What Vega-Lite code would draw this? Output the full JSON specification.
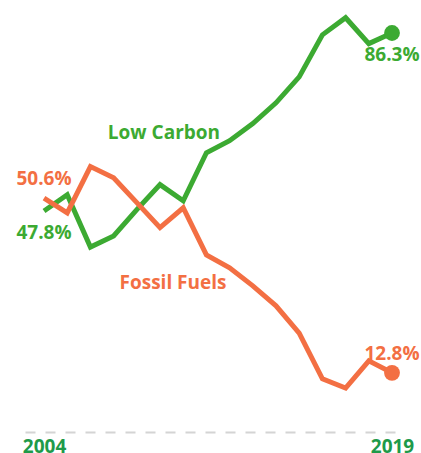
{
  "$schema": "https://vega.github.io/schema/vega-lite/v6.json",
  "width": 380,
  "height": 430,
  "autosize": {"type": "none"},
  "padding": {"left": 25, "top": 2, "right": 16, "bottom": 21},
  "background": "white",
  "config": {"view": {"stroke": null}, "font": "Open Sans"},
  "datasets": {
    "lines": [
      {"year": 2004, "series": "Low Carbon", "value": 47.8},
      {"year": 2005, "series": "Low Carbon", "value": 51.3},
      {"year": 2006, "series": "Low Carbon", "value": 40.0},
      {"year": 2007, "series": "Low Carbon", "value": 42.4},
      {"year": 2008, "series": "Low Carbon", "value": 48.1},
      {"year": 2009, "series": "Low Carbon", "value": 53.5},
      {"year": 2010, "series": "Low Carbon", "value": 50.0},
      {"year": 2011, "series": "Low Carbon", "value": 60.4},
      {"year": 2012, "series": "Low Carbon", "value": 63.0},
      {"year": 2013, "series": "Low Carbon", "value": 66.7},
      {"year": 2014, "series": "Low Carbon", "value": 71.2},
      {"year": 2015, "series": "Low Carbon", "value": 76.8},
      {"year": 2016, "series": "Low Carbon", "value": 85.9},
      {"year": 2017, "series": "Low Carbon", "value": 89.6},
      {"year": 2018, "series": "Low Carbon", "value": 84.0},
      {"year": 2019, "series": "Low Carbon", "value": 86.3},
      {"year": 2004, "series": "Fossil Fuels", "value": 50.6},
      {"year": 2005, "series": "Fossil Fuels", "value": 47.4},
      {"year": 2006, "series": "Fossil Fuels", "value": 57.4},
      {"year": 2007, "series": "Fossil Fuels", "value": 55.0},
      {"year": 2008, "series": "Fossil Fuels", "value": 49.6},
      {"year": 2009, "series": "Fossil Fuels", "value": 44.2},
      {"year": 2010, "series": "Fossil Fuels", "value": 48.5},
      {"year": 2011, "series": "Fossil Fuels", "value": 38.3},
      {"year": 2012, "series": "Fossil Fuels", "value": 35.5},
      {"year": 2013, "series": "Fossil Fuels", "value": 31.6},
      {"year": 2014, "series": "Fossil Fuels", "value": 27.3},
      {"year": 2015, "series": "Fossil Fuels", "value": 21.4},
      {"year": 2016, "series": "Fossil Fuels", "value": 11.5},
      {"year": 2017, "series": "Fossil Fuels", "value": 9.5},
      {"year": 2018, "series": "Fossil Fuels", "value": 15.4},
      {"year": 2019, "series": "Fossil Fuels", "value": 12.8}
    ],
    "labelsAbove": [
      {"year": 2004, "series": "Fossil Fuels", "value": 50.6, "label": "50.6%"},
      {"year": 2019, "series": "Fossil Fuels", "value": 12.8, "label": "12.8%"}
    ],
    "labelsBelow": [
      {"year": 2004, "series": "Low Carbon", "value": 47.8, "label": "47.8%"},
      {"year": 2019, "series": "Low Carbon", "value": 86.3, "label": "86.3%"}
    ],
    "seriesNames": [
      {"year": 2009.17, "series": "Low Carbon", "value": 64.7, "label": "Low Carbon"},
      {"year": 2009.56, "series": "Fossil Fuels", "value": 32.2, "label": "Fossil Fuels"}
    ]
  },
  "encoding": {
    "x": {
      "field": "year",
      "type": "quantitative",
      "scale": {"domain": [2003.18, 2019.56], "nice": false, "zero": false},
      "axis": {
        "title": null,
        "values": [2004, 2019],
        "format": "d",
        "grid": false,
        "ticks": false,
        "labelFlush": false,
        "labelColor": "#1e9a4a",
        "labelFont": "Open Sans",
        "labelFontSize": 19,
        "labelFontWeight": "bold",
        "labelPadding": 5,
        "domainColor": "#d4d4d4",
        "domainWidth": 2,
        "domainDash": [10, 10]
      }
    },
    "y": {
      "field": "value",
      "type": "quantitative",
      "scale": {"domain": [0, 93], "nice": false},
      "axis": null
    },
    "color": {
      "field": "series",
      "type": "nominal",
      "scale": {"domain": ["Low Carbon", "Fossil Fuels"], "range": ["#3caa32", "#f36f43"]},
      "legend": null
    }
  },
  "layer": [
    {
      "data": {"name": "lines"},
      "mark": {"type": "line", "strokeWidth": 5, "strokeJoin": "miter", "strokeCap": "butt"}
    },
    {
      "data": {"name": "lines"},
      "transform": [{"filter": "datum.year == 2019"}],
      "mark": {"type": "point", "filled": true, "opacity": 1, "size": 250}
    },
    {
      "data": {"name": "labelsAbove"},
      "mark": {"type": "text", "align": "center", "baseline": "middle", "dy": -19, "fontSize": 19, "fontWeight": "bold", "font": "Open Sans"},
      "encoding": {"text": {"field": "label"}}
    },
    {
      "data": {"name": "labelsBelow"},
      "mark": {"type": "text", "align": "center", "baseline": "middle", "dy": 22, "fontSize": 19, "fontWeight": "bold", "font": "Open Sans"},
      "encoding": {"text": {"field": "label"}}
    },
    {
      "data": {"name": "seriesNames"},
      "mark": {"type": "text", "align": "center", "baseline": "middle", "fontSize": 19, "fontWeight": "bold", "font": "Open Sans"},
      "encoding": {"text": {"field": "label"}}
    }
  ]
}
